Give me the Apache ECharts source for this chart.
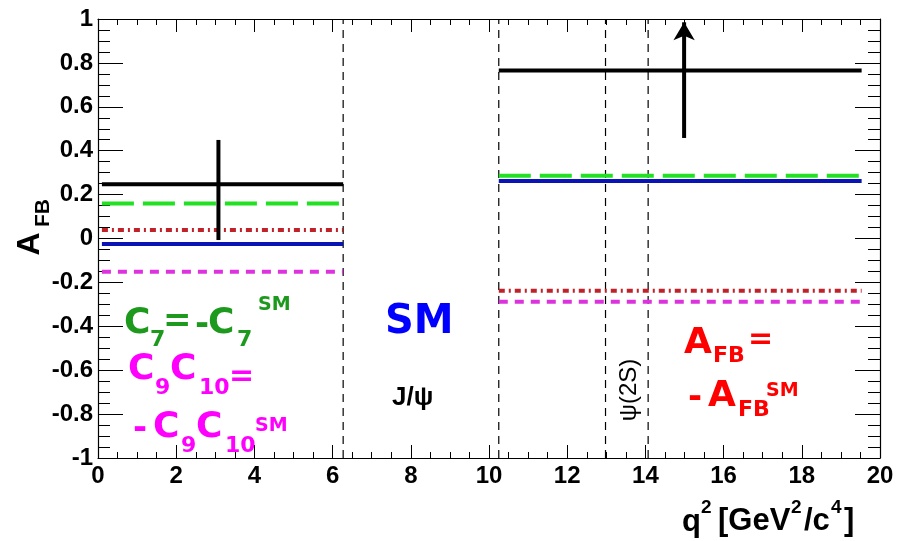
<!DOCTYPE html>
<html><head><meta charset="utf-8">
<script src="https://cdn.jsdelivr.net/npm/echarts@6/dist/echarts.min.js"></script>
<style>html,body{margin:0;padding:0;background:#fff}#c{width:911px;height:541px}</style>
</head><body><div id="c"></div>
<script>
// ---- data ----
const xTickLabels = ['0','2','4','6','8','10','12','14','16','18','20'];
const yTickLabels = ['-1','-0.8','-0.6','-0.4','-0.2','0','0.2','0.4','0.6','0.8','1'];
const binLow  = [0.1, 10.25];   // q^2 bin edges
const binHigh = [6.27, 19.53];
const measured   = [0.247, 0.765];
const smAfb      = [-0.025, 0.262];
const c7Flip     = [0.160, 0.286];
const c9c10Flip  = [-0.151, -0.288];
const afbFlip    = [0.039, -0.238];
const errX   = [3.08, 14.99];
const errLow = [-0.007, 0.458];
const errHigh= [0.449, 0.985];     // second one is a lower-limit arrow
const vetoLines = [6.27, 10.25, 12.98, 14.07];

const chart = echarts.init(document.getElementById('c'));
const F = 'Liberation Sans, Arial, sans-serif';
const C = 'DejaVu Sans, sans-serif';

function seg(name, vals, color, width, type){
  const d = [];
  for (let i=0;i<vals.length;i++){
    d.push([binLow[i], vals[i]], [binHigh[i], vals[i]], [null, null]);
  }
  return {type:'line', name, data:d, showSymbol:false, symbol:'none', connectNulls:false,
    lineStyle:{color, width, type}, z:3, silent:true};
}
const series = [
  seg('C9C10', c9c10Flip, '#dd33dd', 4, [9,7]),
  seg('AFB', afbFlip, '#c0222a', 4, [6,4,2,4]),
  seg('SM', smAfb, '#0a14b4', 4, 'solid'),
  seg('C7', c7Flip, '#22e022', 4, [32,9]),
  seg('data', measured, '#000', 4, 'solid'),
];
vetoLines.forEach(v=>series.push({type:'line', data:[[v,-1],[v,1]], symbol:'none',
  lineStyle:{color:'#000', width:1.2, type:[8,6]}, z:2, silent:true}));
// error bars
series.push({type:'line', data:[[errX[0],errLow[0]],[errX[0],errHigh[0]]], symbol:'none',
  lineStyle:{color:'#000', width:4}, z:4, silent:true});
series.push({type:'line', clip:false, data:[[errX[1],errLow[1]],
  {value:[errX[1],errHigh[1]], symbol:'arrow', symbolSize:[16,18]}],
  showSymbol:true, symbol:'none', showAllSymbol:true,
  itemStyle:{color:'#000'}, lineStyle:{color:'#000', width:4}, z:4, silent:true});

function T(text,x,y,size,color,o){
  o = o||{};
  return {type:'text', x, y, rotation:o.rot||0, z:10,
    style:{text, fill:color, font:(o.weight||'bold')+' '+size+'px '+(o.family||C),
      textAlign:o.align||'left', textVerticalAlign:'middle'}};
}
const green='#1d9a1d', mag='#ff00ff', blue='#0000ff', red='#ff0000';
const graphics = [
  // y title
  T('A',30,244,32,'#000',{family:F,rot:Math.PI/2,align:'center'}),
  T('FB',43,213,21,'#000',{family:F,rot:Math.PI/2,align:'center'}),
  // x title
  T('q',682,522,31,'#000',{family:F}),
  T('2',701,508,19,'#000',{family:F}),
  T('[GeV',718,521,31,'#000',{family:F}),
  T('2',791,508,19,'#000',{family:F}),
  T('/c',804,521,31,'#000',{family:F}),
  T('4',831,508,19,'#000',{family:F}),
  T(']',844,521,31,'#000',{family:F}),
  // C7 = -C7^SM
  T('C',124,324,36,green), T('7',150,340,22,green),
  T('=',163,322,34,green), T('-',195,325,34,green),
  T('C',208,324,36,green), T('7',237,340,22,green),
  T('SM',258,305,19,green),
  // C9C10=
  T('C',128,370,36,mag), T('9',155,388,22,mag),
  T('C',170,370,36,mag), T('10',199,388,22,mag),
  T('=',229,377,30,mag),
  // -C9C10^SM
  T('-',133,429,34,mag), T('C',153,428,36,mag), T('9',181,446,22,mag),
  T('C',196,428,36,mag), T('10',225,446,22,mag), T('SM',255,426,19,mag),
  // SM
  T('SM',385,323,40,blue),
  T('J/ψ',392,398,26,'#000',{family:F}),
  T('ψ(2S)',629,390,24,'#000',{family:F,weight:'normal',rot:Math.PI/2,align:'center'}),
  // AFB = -AFB^SM
  T('A',684,344,36,red), T('FB',713,356,22,red), T('=',748,340,30,red),
  T('-',688,398,34,red), T('A',708,397,36,red), T('FB',738,410,22,red), T('SM',766,391,19,red),
];

const lbl = {color:'#000', fontFamily:F, fontSize:24, fontWeight:'bold'};
const axisCommon = {
  min:-1, max:1, interval:0.2,
  splitLine:{show:false},
};
chart.setOption({
  animation:false,
  backgroundColor:'#fff',
  grid:{left:98, right:31, top:19, bottom:83, containLabel:false, show:false},
  xAxis:[{type:'value', min:0, max:20, interval:2, position:'bottom',
    axisLine:{show:true, onZero:false, lineStyle:{color:'#000', width:1.2}},
    axisTick:{inside:true, length:13, lineStyle:{color:'#000'}},
    minorTick:{show:true, splitNumber:4, length:6, lineStyle:{color:'#000'}},
    splitLine:{show:false},
    axisLabel:Object.assign({margin:6, formatter:(v)=>xTickLabels[Math.round(v/2)]}, lbl)},
   {type:'value', min:0, max:20, interval:2, position:'top',
    axisLine:{show:true, onZero:false, lineStyle:{color:'#000', width:1.2}},
    axisTick:{inside:true, length:13, lineStyle:{color:'#000'}},
    minorTick:{show:true, splitNumber:4, length:6, lineStyle:{color:'#000'}},
    splitLine:{show:false}, axisLabel:{show:false}}],
  yAxis:[{type:'value', position:'left', ...axisCommon,
    axisLine:{show:true, onZero:false, lineStyle:{color:'#000', width:1.2}},
    axisTick:{inside:true, length:25, lineStyle:{color:'#000'}},
    minorTick:{show:true, splitNumber:4, length:12, lineStyle:{color:'#000'}},
    axisLabel:Object.assign({margin:5, formatter:(v)=>yTickLabels[Math.round((v+1)/0.2)]}, lbl)},
   {type:'value', position:'right', ...axisCommon,
    axisLine:{show:true, onZero:false, lineStyle:{color:'#000', width:1.2}},
    axisTick:{inside:true, length:25, lineStyle:{color:'#000'}},
    minorTick:{show:true, splitNumber:4, length:12, lineStyle:{color:'#000'}},
    axisLabel:{show:false}}],
  series: series,
  graphic: graphics
});
</script></body></html>
